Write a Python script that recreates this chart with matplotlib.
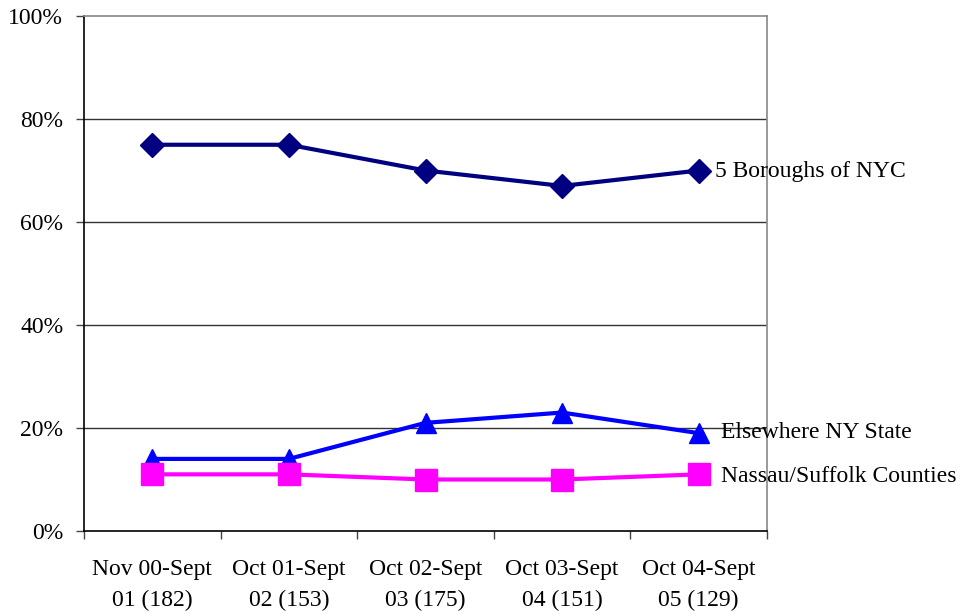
import matplotlib
matplotlib.use("Agg")
import matplotlib.pyplot as plt
from matplotlib.ticker import FuncFormatter, FixedLocator

# data (percent)
periods = ["Nov 00-Sept\n01 (182)", "Oct 01-Sept\n02 (153)", "Oct 02-Sept\n03 (175)",
           "Oct 03-Sept\n04 (151)", "Oct 04-Sept\n05 (129)"]
nyc = [75, 75, 70, 67, 70]
elsewhere = [14, 14, 21, 23, 19]
nassau = [11, 11, 10, 10, 11]

plt.rcParams['font.family'] = ['Liberation Serif', 'DejaVu Serif']

fig = plt.figure(figsize=(9.66, 6.16), dpi=100)
ax = fig.add_axes([84/966, 1-531/616, (767-84)/966, (531-16)/616])

x = list(range(len(periods)))
ax.plot(x, nyc, color='#000080', lw=3, marker='D', ms=12.5, zorder=3)
ax.plot(x, elsewhere, color='#0000FF', lw=3, marker='^', ms=14, zorder=3)
ax.plot(x, nassau, color='#FF00FF', lw=3, marker='s', ms=16, zorder=3)

# series labels at the right end
ax.annotate("5 Boroughs of NYC", xy=(4, nyc[-1]), xytext=(12, -0.5), textcoords='offset points',
            va='center', ha='left', fontsize=17, annotation_clip=False)
ax.annotate("Elsewhere NY State", xy=(4, elsewhere[-1]), xytext=(16, 0.5), textcoords='offset points',
            va='center', ha='left', fontsize=17, annotation_clip=False)
ax.annotate("Nassau/Suffolk Counties", xy=(4, nassau[-1]), xytext=(16, -1.5), textcoords='offset points',
            va='center', ha='left', fontsize=17, annotation_clip=False)

ax.set_xlim(-0.5, 4.5)
ax.set_ylim(0, 100)
ax.set_yticks([0, 20, 40, 60, 80, 100])
ax.yaxis.set_major_formatter(FuncFormatter(lambda v, p: "%d%%" % v))
for g in [20, 40, 60, 80]:
    ax.axhline(g, color='#333333', lw=1.0, zorder=1)

# category labels centred, ticks at category boundaries
ax.xaxis.set_major_locator(FixedLocator([i - 0.5 for i in range(6)]))
ax.xaxis.set_minor_locator(FixedLocator(x))
ax.set_xticklabels([])
ax.set_xticklabels(periods, minor=True, linespacing=1.6)
ax.tick_params(axis='x', which='major', length=6, width=1, color='#444444', direction='out')
ax.tick_params(axis='x', which='minor', length=0, pad=20, labelsize=17)
ax.tick_params(axis='y', length=6, width=1, color='#444444', direction='out', labelsize=17, pad=9)

ax.spines['left'].set_color('black')
ax.spines['bottom'].set_color('black')
ax.spines['top'].set_color('#888888')
ax.spines['right'].set_color('#888888')
for s in ax.spines.values():
    s.set_linewidth(1.2)

fig.savefig('out.png', dpi=100)
